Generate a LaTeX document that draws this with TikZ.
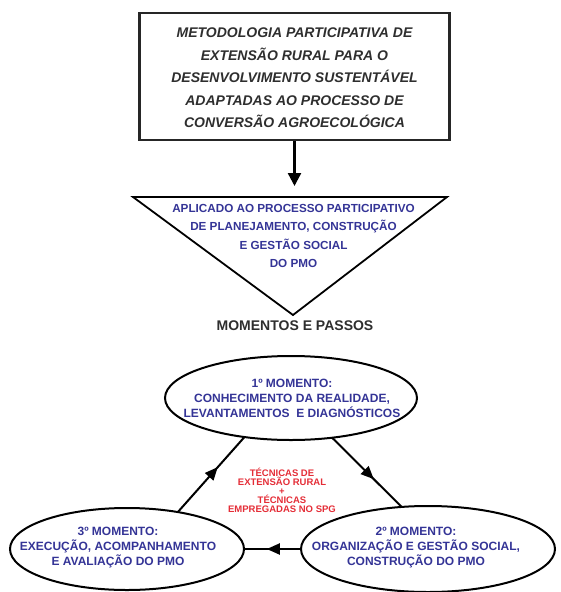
\documentclass[tikz,border=0pt]{standalone}
\usepackage{fontspec}
\setmainfont{Liberation Sans}
\usetikzlibrary{arrows.meta,decorations.markings,shapes.geometric}
\definecolor{boxtext}{HTML}{2E2E2E}
\definecolor{bluetext}{RGB}{52,52,150}
\definecolor{redtext}{RGB}{228,45,55}
\begin{document}
\begin{tikzpicture}[x=1pt,y=-1pt,
  ellbox/.style={ellipse, draw=black, line width=2pt, inner sep=0pt, outer sep=0pt},
  bluetxt/.style={text=bluetext, align=center, inner sep=0pt, font=\bfseries\fontsize{12}{15}\selectfont},
  conn/.style={line width=2pt, draw=black},
  midarrow/.style={conn, decoration={markings, mark=at position 0.6 with {\arrow{Triangle[length=13pt,width=11pt]}}}, postaction={decorate}}
]
\useasboundingbox (0,0) rectangle (560,592);

% top box
\node[draw=black!85, line width=2.4pt, minimum width=310pt, minimum height=127pt, inner sep=0pt] (box) at (294.5,76.5) {};
\node[text=boxtext, align=center, inner sep=0pt, font=\bfseries\itshape\fontsize{14}{22.5}\selectfont] (boxtxt) at (294.5,78)
  {METODOLOGIA PARTICIPATIVA DE\\EXTENSÃO RURAL PARA O\\DESENVOLVIMENTO SUSTENTÁVEL\\ADAPTADAS AO PROCESSO DE\\CONVERSÃO AGROECOLÓGICA};

% arrow to triangle
\coordinate (arrowend) at (294.5,186);
\draw[line width=2.4pt, -{Triangle[length=13pt,width=13pt]}] (box.south) -- (arrowend);

% triangle
\coordinate (tl) at (133,197);
\coordinate (tr) at (447,197);
\coordinate (tb) at (293,315);
\draw[line width=1.8pt, line join=miter] (tl) -- (tr) -- (tb) -- cycle;
\node[text=bluetext, align=center, inner sep=0pt, font=\bfseries\fontsize{11.7}{18.3}\selectfont] (tritxt) at (293.5,236)
  {APLICADO AO PROCESSO PARTICIPATIVO\\DE PLANEJAMENTO, CONSTRUÇÃO\\E GESTÃO SOCIAL\\DO PMO};

\node[text=boxtext, inner sep=0pt, font=\bfseries\fontsize{14}{16}\selectfont] (momentos) at (295,326) {MOMENTOS E PASSOS};

% ellipses
\node[ellbox, minimum width=252pt, minimum height=84pt] (e1) at (291,398) {};
\node[ellbox, minimum width=254pt, minimum height=86pt] (e2) at (428,549) {};
\node[ellbox, minimum width=234pt, minimum height=82pt] (e3) at (127,549) {};

\node[bluetxt] (t1) at (292,398) {1º MOMENTO:\\CONHECIMENTO DA REALIDADE,\\LEVANTAMENTOS~ E DIAGNÓSTICOS};
\node[bluetxt] (t2) at (416,548) {2º MOMENTO:\\ORGANIZAÇÃO E GESTÃO SOCIAL,\\CONSTRUÇÃO DO PMO};
\node[bluetxt] (t3) at (118,548) {3º MOMENTO:\\EXECUÇÃO, ACOMPANHAMENTO\\E AVALIAÇÃO DO PMO};

% center red text
\node[text=redtext, align=center, inner sep=0pt, font=\bfseries\fontsize{9.5}{9}\selectfont] (tec) at (282,490)
  {TÉCNICAS DE\\EXTENSÃO RURAL\\+\\TÉCNICAS\\EMPREGADAS NO SPG};

% cycle arrows
\draw[midarrow] (e3.36) -- (e1.220);
\draw[midarrow] (e1.316) -- (e2.122);
\draw[midarrow] (e2.west) -- (e3.east);
\end{tikzpicture}
\end{document}
